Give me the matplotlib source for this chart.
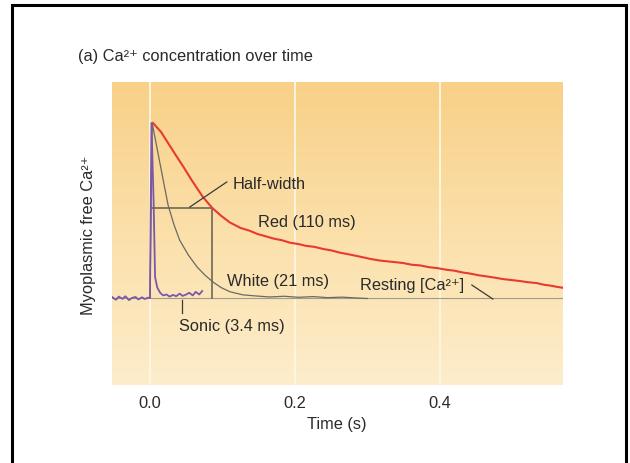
import matplotlib
matplotlib.use("Agg")
import matplotlib.pyplot as plt
import numpy as np
from matplotlib.colors import LinearSegmentedColormap
from matplotlib.patches import Rectangle

plt.rcParams['font.family'] = ['Liberation Sans', 'DejaVu Sans']

# ---- data (time in s, free Ca2+ relative: resting = 0, peak = 1) ----
red_t = [0.004, 0.015, 0.025, 0.035, 0.046, 0.058, 0.073, 0.086, 0.098, 0.110,
         0.125, 0.137, 0.148, 0.160, 0.170, 0.182, 0.193, 0.205, 0.215, 0.227,
         0.239, 0.250, 0.262, 0.276, 0.290, 0.303, 0.317, 0.333, 0.349, 0.361,
         0.373, 0.385, 0.396, 0.408, 0.420, 0.431, 0.441, 0.453, 0.465, 0.476,
         0.487, 0.498, 0.510, 0.522, 0.534, 0.543, 0.552, 0.561, 0.570]
red_a = [1.000, 0.950, 0.885, 0.820, 0.750, 0.670, 0.577, 0.514, 0.470, 0.432,
         0.400, 0.385, 0.366, 0.352, 0.340, 0.330, 0.316, 0.308, 0.298, 0.292,
         0.280, 0.272, 0.259, 0.248, 0.236, 0.224, 0.214, 0.207, 0.200, 0.190,
         0.186, 0.176, 0.171, 0.162, 0.156, 0.146, 0.140, 0.130, 0.123, 0.116,
         0.108, 0.103, 0.097, 0.090, 0.085, 0.076, 0.071, 0.064, 0.058]

white_t = [0.000, 0.003, 0.010, 0.017, 0.025, 0.033, 0.041, 0.053, 0.065, 0.076,
           0.087, 0.098, 0.110, 0.128, 0.145, 0.165, 0.185, 0.205, 0.225, 0.245,
           0.265, 0.285, 0.300]
white_a = [0.000, 1.000, 0.850, 0.700, 0.530, 0.420, 0.330, 0.245, 0.177, 0.130,
           0.091, 0.060, 0.036, 0.018, 0.012, 0.006, 0.010, 0.004, 0.008, 0.002,
           0.005, 0.000, -0.003]

sonic_t = [-0.052, -0.047, -0.043, -0.038, -0.034, -0.029, -0.025, -0.020, -0.016,
           -0.011, -0.007, -0.003, 0.000, 0.002, 0.005, 0.007, 0.010, 0.014, 0.018,
           0.023, 0.027, 0.032, 0.036, 0.041, 0.045, 0.050, 0.054, 0.059, 0.063,
           0.068, 0.072]
sonic_a = [0.005, -0.010, 0.008, -0.005, 0.010, -0.012, 0.000, 0.006, -0.008,
           0.004, -0.006, 0.002, 0.000, 1.000, 0.550, 0.120, 0.060, 0.030, 0.015,
           0.020, 0.008, 0.018, 0.010, 0.025, 0.012, 0.020, 0.030, 0.015, 0.035,
           0.020, 0.040]

half_level = 0.514
half_t = [0.003, 0.086]
x_ticks = [0.0, 0.2, 0.4]
x_ticklabels = ['0.0', '0.2', '0.4']

# ---- figure ----
W, H = 630, 463
fig = plt.figure(figsize=(6.3, 4.63), dpi=100)
fig.patch.set_facecolor('white')

def fx(px):
    return px / W

def fy(py):
    return 1 - py / H

ax = fig.add_axes([fx(112), fy(385), fx(563) - fx(112), fy(82) - fy(385)])
ax.set_xlim(-0.0524, 0.5697)
ax.set_ylim(-0.497, 1.234)

cmap = LinearSegmentedColormap.from_list('bg', ['#F8D088', '#FBE0AA', '#FDEDCB'])
grad = np.linspace(0, 1, 256).reshape(-1, 1)
ax.imshow(grad, cmap=cmap, aspect='auto', extent=[0, 1, 0, 1],
          transform=ax.transAxes, origin='upper', zorder=0)

for xt in x_ticks:
    ax.axvline(xt, color='#FFF6E2', lw=1.3, zorder=1)

# resting line
ax.axhline(0, color='#A09C8C', lw=0.8, zorder=2)

ax.plot(white_t, white_a, color='#6A6A62', lw=0.9, zorder=3)
ax.plot(sonic_t, sonic_a, color='#7A58A8', lw=1.3, zorder=4)
ax.plot(red_t, red_a, color='#E83A30', lw=1.5, zorder=5)

# half-width markers
lc = '#6B6955'
ax.plot(half_t, [half_level, half_level], color=lc, lw=1.2, zorder=4)
ax.plot([half_t[1], half_t[1]], [half_level, 0], color=lc, lw=1.2, zorder=4)
ax.plot([0.106, 0.055], [0.663, 0.52], color='#3A3A3A', lw=0.9, zorder=6)
ax.plot([0.044, 0.044], [-0.011, -0.086], color='#3A3A3A', lw=0.9, zorder=6)
ax.plot([0.444, 0.473], [0.074, -0.006], color='#3A3A3A', lw=0.9, zorder=6)

tc = '#2A2A2A'
fs = 11.8
ax.text(0.1145, 0.651, 'Half-width', fontsize=fs, color=tc, va='center', ha='left', zorder=7)
ax.text(0.149, 0.434, 'Red (110 ms)', fontsize=fs, color=tc, va='center', ha='left', zorder=7)
ax.text(0.106, 0.097, 'White (21 ms)', fontsize=fs, color=tc, va='center', ha='left', zorder=7)
ax.text(0.040, -0.160, 'Sonic (3.4 ms)', fontsize=fs, color=tc, va='center', ha='left', zorder=7)
ax.text(0.290, 0.069, 'Resting [Ca²⁺]', fontsize=fs, color=tc, va='center', ha='left', zorder=7)

ax.set_xticks(x_ticks)
ax.set_xticklabels(x_ticklabels, fontsize=fs, color=tc)
ax.set_yticks([])
ax.tick_params(axis='x', length=0, pad=8)
for s in ax.spines.values():
    s.set_visible(False)

fig.text(fx(78), fy(57), '(a) Ca²⁺ concentration over time', fontsize=fs,
         color=tc, ha='left', va='center')
fig.text(fx(337), fy(425), 'Time (s)', fontsize=fs, color=tc, ha='center', va='center')
fig.text(fx(88), fy(235), 'Myoplasmic free Ca²⁺', fontsize=fs, color=tc,
         ha='center', va='center', rotation=90)

# frame around the figure (open at the bottom)
fig.add_artist(Rectangle((fx(12), -0.05), fx(626) - fx(12), fy(5) + 0.05,
                         transform=fig.transFigure, fill=False, edgecolor='black',
                         lw=2.2, zorder=10))

fig.savefig('out.png', dpi=100)
